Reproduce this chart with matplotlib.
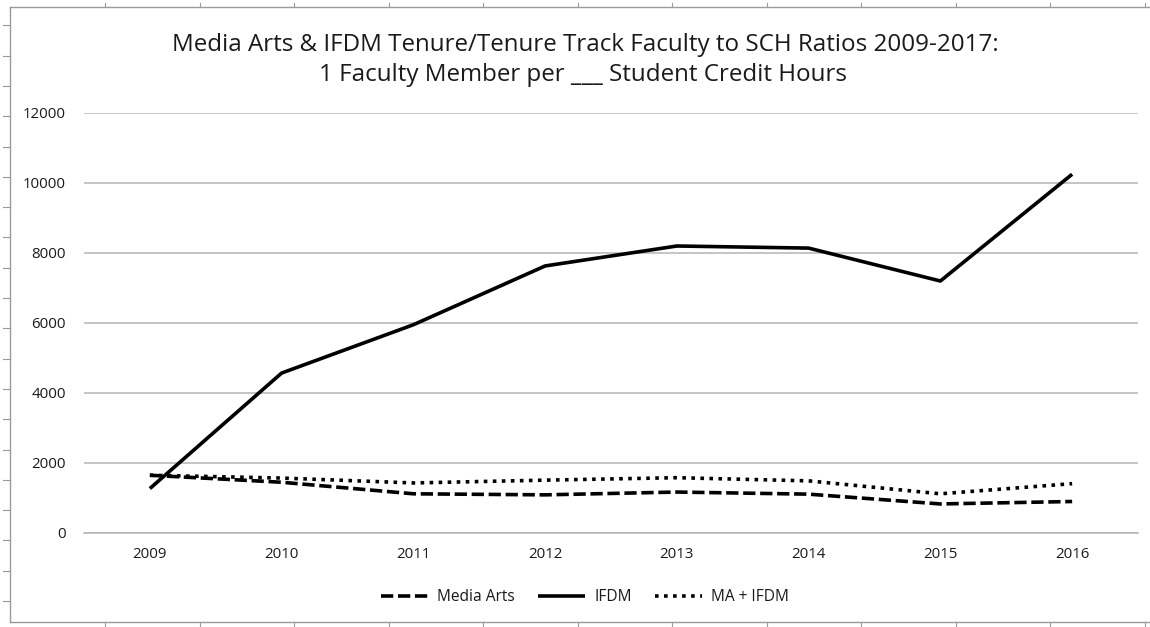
import matplotlib
matplotlib.use("Agg")
import matplotlib.pyplot as plt
from matplotlib.lines import Line2D

years = ["2009", "2010", "2011", "2012", "2013", "2014", "2015", "2016"]
media_arts = [1650, 1450, 1120, 1090, 1170, 1110, 830, 900]
ifdm = [1270, 4570, 5950, 7630, 8200, 8140, 7200, 10250]
ma_ifdm = [1650, 1570, 1430, 1510, 1580, 1490, 1120, 1410]
yticks = [0, 2000, 4000, 6000, 8000, 10000, 12000]

plt.rcParams['font.family'] = ['Open Sans', 'DejaVu Sans']

W, H = 1150, 627
fig = plt.figure(figsize=(W / 100, H / 100), dpi=100)
ax = fig.add_axes([84 / W, 1 - 533 / H, (1138 - 84) / W, (533 - 113) / H])

x = list(range(len(years)))
lw = 2.6
ax.plot(x, media_arts, color='black', lw=lw, dashes=(3.4, 1.3),
        solid_capstyle='butt', dash_capstyle='butt', label='Media Arts')
ax.plot(x, ifdm, color='black', lw=lw, solid_capstyle='butt', label='IFDM')
ax.plot(x, ma_ifdm, color='black', lw=lw, dashes=(1.0, 1.5),
        dash_capstyle='butt', label='MA + IFDM')

ax.set_xlim(-0.5, len(years) - 0.5)
ax.set_ylim(0, 12000)
ax.set_yticks(yticks)
ax.set_yticklabels([str(v) for v in yticks])
ax.set_xticks(x)
ax.set_xticklabels(years)
ax.yaxis.grid(True, color='#b4b4b4', lw=1.1)
ax.set_axisbelow(True)
for s in ['top', 'right', 'left']:
    ax.spines[s].set_visible(False)
ax.spines['bottom'].set_color('#b4b4b4')
ax.spines['bottom'].set_linewidth(1.1)
ax.tick_params(axis='both', length=0, labelsize=10.8, colors='#1a1a1a')
ax.tick_params(axis='y', pad=13)
ax.tick_params(axis='x', pad=10)

fig.text(585 / W, 1 - 45 / H,
         "Media Arts & IFDM Tenure/Tenure Track Faculty to SCH Ratios 2009-2017:",
         ha='center', va='center', fontsize=17.4, color='#1a1a1a')
fig.text(583 / W, 1 - 75 / H,
         "1 Faculty Member per ___ Student Credit Hours",
         ha='center', va='center', fontsize=17.4, color='#1a1a1a')

leg = fig.legend(loc='center', bbox_to_anchor=(585 / W, 1 - 597 / H), ncol=3,
                 frameon=False, fontsize=11.2, handlelength=3.0,
                 columnspacing=1.5, handletextpad=0.6)
for t in leg.get_texts():
    t.set_color('#1a1a1a')

# outer frame of the screenshot
bc = '#9a9a9a'
fig.add_artist(Line2D([10 / W, 10 / W], [1 - 7 / H, 1 - 622 / H], color=bc, lw=1.0))
fig.add_artist(Line2D([10 / W, 1], [1 - 7 / H, 1 - 7 / H], color=bc, lw=1.0))
fig.add_artist(Line2D([10 / W, 1], [1 - 622 / H, 1 - 622 / H], color=bc, lw=1.0))
k = 0
while 601 - 30.3 * k > 20:
    yy = 601 - 30.3 * k
    fig.add_artist(Line2D([3 / W, 10 / W], [1 - yy / H, 1 - yy / H], color=bc, lw=0.8))
    k += 1
k = 0
while 105 + 94.5 * k < W:
    xx = 105 + 94.5 * k
    fig.add_artist(Line2D([xx / W, xx / W], [1 - 3 / H, 1 - 7 / H], color=bc, lw=0.8))
    fig.add_artist(Line2D([xx / W, xx / W], [1 - 622 / H, 1 - 626 / H], color=bc, lw=0.8))
    k += 1

fig.savefig("out.png", dpi=100)
